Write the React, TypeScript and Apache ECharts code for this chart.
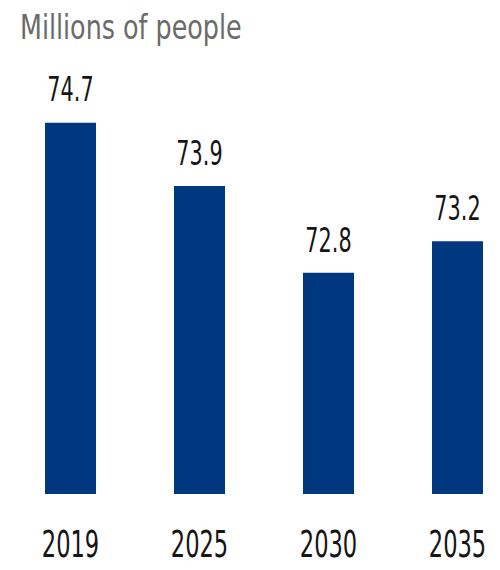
import React, { useEffect, useRef } from "react";
import * as echarts from "echarts";

const categories = ["2019", "2025", "2030", "2035"];
const values = [74.7, 73.9, 72.8, 73.2];
const titleText = "Millions of people";

const FONT = "'DejaVu Sans Condensed', 'DejaVu Sans', sans-serif";

export default function App() {
  const ref = useRef<HTMLDivElement>(null);
  useEffect(() => {
    if (!ref.current) return;
    const chart = echarts.init(ref.current, undefined, { renderer: "svg" });
    chart.setOption({
      animation: false,
      grid: { left: 6, top: 99, width: 516, height: 395, containLabel: false },
      xAxis: {
        type: "category",
        data: categories,
        axisLine: { show: false },
        axisTick: { show: false },
        axisLabel: { show: false },
      },
      yAxis: {
        type: "value",
        min: 70,
        max: 75,
        show: false,
        splitLine: { show: false },
      },
      series: [
        {
          type: "bar",
          data: values,
          barWidth: 51,
          itemStyle: { color: "#00387f" },
          label: { show: false },
        },
      ],
    });

    const graphics: any[] = [
      {
        type: "text",
        x: 20,
        y: 10,
        scaleX: 0.83,
        style: {
          text: titleText,
          fontFamily: FONT,
          fontSize: 34,
          fill: "#6b6b6b",
          textAlign: "left",
          textVerticalAlign: "top",
        },
      },
    ];
    categories.forEach((c, i) => {
      const top = chart.convertToPixel({ gridIndex: 0 }, [i, values[i]]) as number[];
      const base = chart.convertToPixel({ gridIndex: 0 }, [i, 70]) as number[];
      graphics.push({
        type: "text",
        x: top[0],
        y: top[1] - 16,
        scaleX: 0.68,
        style: {
          text: values[i].toFixed(1),
          fontFamily: FONT,
          fontSize: 34,
          fill: "#151515",
          textAlign: "center",
          textVerticalAlign: "bottom",
        },
      });
      graphics.push({
        type: "text",
        x: base[0],
        y: base[1] + 31,
        scaleX: 0.66,
        style: {
          text: c,
          fontFamily: FONT,
          fontSize: 38,
          fill: "#151515",
          textAlign: "center",
          textVerticalAlign: "top",
        },
      });
    });
    chart.setOption({ graphic: graphics });
    return () => chart.dispose();
  }, []);
  return (
    <div style={{ position: "absolute", left: 0, top: 0, width: 500, height: 570, overflow: "hidden" }}>
      <div ref={ref} style={{ width: 530, height: 570 }} />
    </div>
  );
}
